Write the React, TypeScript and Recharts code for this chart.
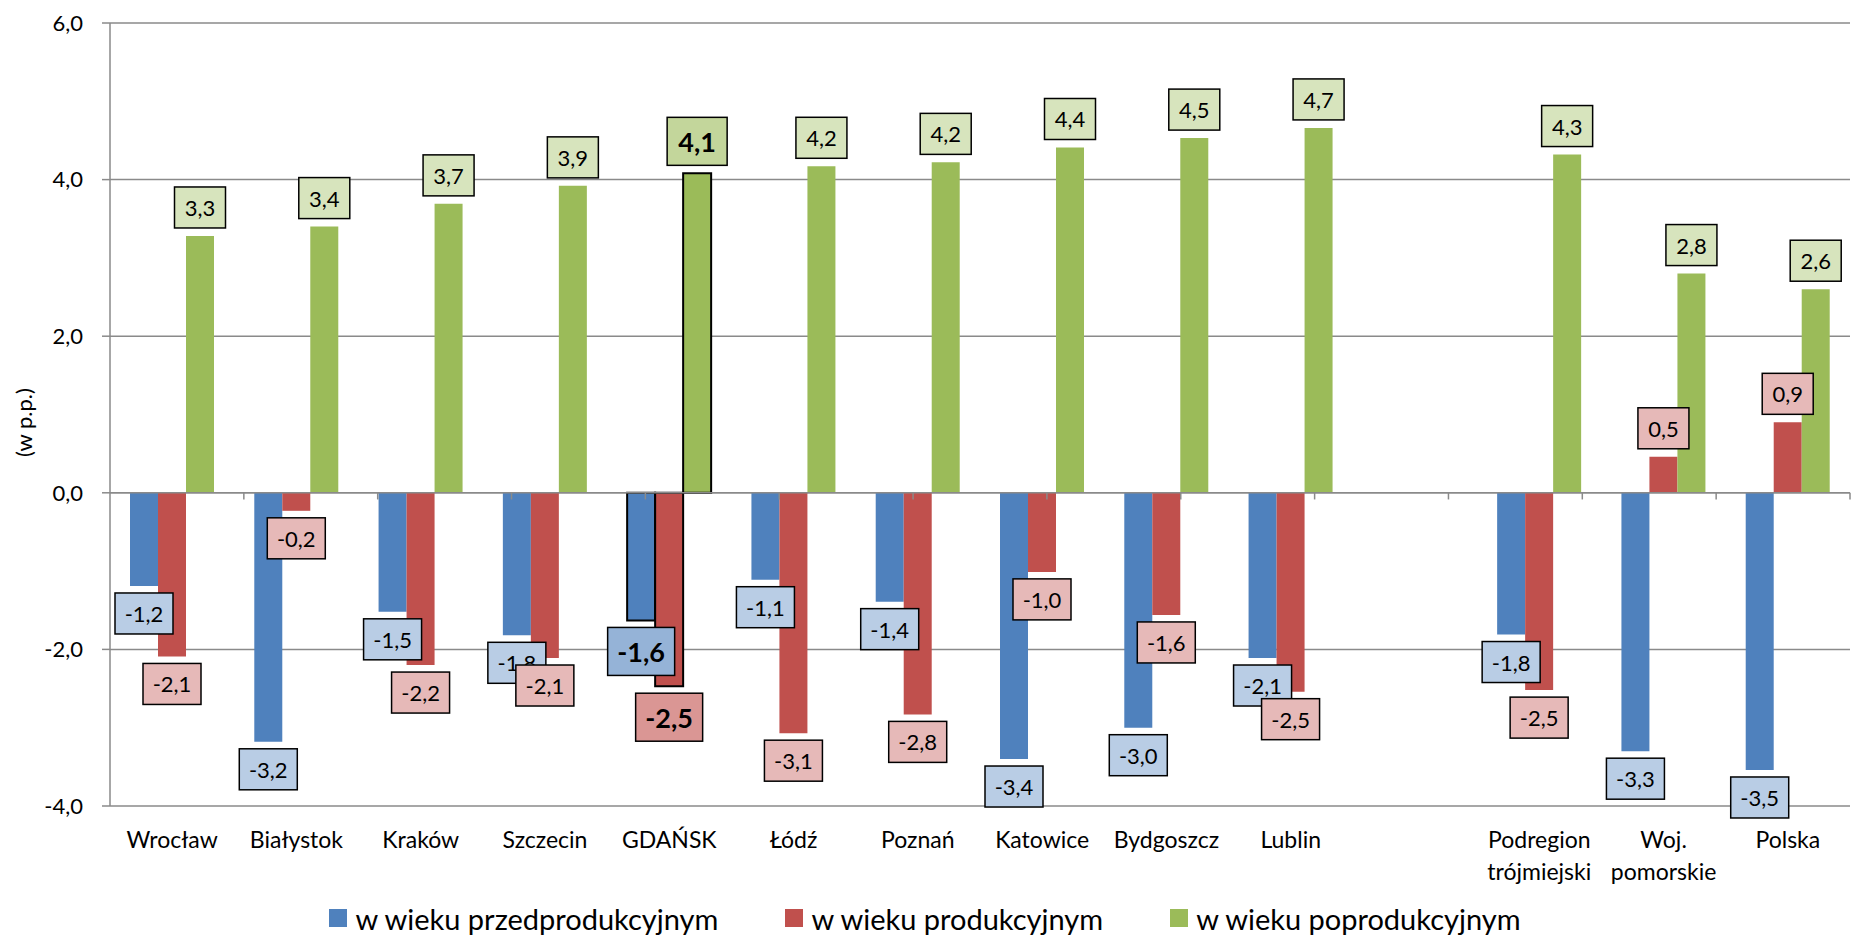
import {
  BarChart, Bar, XAxis, YAxis, CartesianGrid, Cell, LabelList, Legend, ReferenceLine, Label,
} from "recharts";

const categories = [
  "Wrocław", "Białystok", "Kraków", "Szczecin", "GDAŃSK", "Łódź", "Poznań",
  "Katowice", "Bydgoszcz", "Lublin", "", "Podregion\ntrójmiejski", "Woj.\npomorskie", "Polska",
];
const przedprodukcyjny = [-1.19, -3.18, -1.52, -1.82, -1.63, -1.11, -1.39, -3.4, -3.0, -2.11, null, -1.81, -3.3, -3.54];
const produkcyjny = [-2.09, -0.23, -2.2, -2.11, -2.47, -3.07, -2.83, -1.01, -1.56, -2.54, null, -2.52, 0.46, 0.9];
const poprodukcyjny = [3.28, 3.4, 3.69, 3.92, 4.08, 4.17, 4.22, 4.41, 4.53, 4.66, null, 4.32, 2.8, 2.6];
const yTicks = [-4, -2, 0, 2, 4, 6];
const seriesOrder = ["pre", "prod", "post"];
const highlight = "GDAŃSK";

const data = categories.map((name, i) => ({
  name,
  pre: przedprodukcyjny[i],
  prod: produkcyjny[i],
  post: poprodukcyjny[i],
}));
const hlIndex = categories.indexOf(highlight);
const boundaries = categories.slice(1).map((_, i) => i + 1);

const FONT = "Lato, 'Open Sans', sans-serif";
const GRID = "#8a8a8a";
const fmt = (v: number) => v.toFixed(1).replace(".", ",");

// boxed value label, below negative bars and above positive ones
const makeLabel = (fill: string, fillBold: string) => (props: any) => {
  const { x, y, width, height, value, index } = props;
  if (value == null) return null;
  const bold = index === hlIndex;
  const text = fmt(Number(value));
  const h = bold ? 48 : 41;
  const w = (bold ? 39 : 30) + 7 * text.length;
  const cx = Number(x) + Number(width) / 2;
  const top = Math.min(Number(y), Number(y) + Number(height));
  const bottom = Math.max(Number(y), Number(y) + Number(height));
  const by = value < 0 ? bottom + 7 : top - 8 - h;
  return (
    <g>
      <rect x={cx - w / 2} y={by} width={w} height={h} fill={bold ? fillBold : fill} stroke="#000" strokeWidth={1.5} />
      <text x={cx} y={by + h / 2} textAnchor="middle" dominantBaseline="central"
        fontSize={bold ? 27 : 22} fontWeight={bold ? 700 : 400} fontFamily={FONT} fill="#000">
        {text}
      </text>
    </g>
  );
};

const CategoryTick = ({ x, y, payload }: any) => {
  const lines = String(payload.value).split("\n");
  return (
    <text x={x} y={y} textAnchor="middle" fontSize={23} fontFamily={FONT} fill="#000">
      {lines.map((l, i) => (
        <tspan key={i} x={x} dy={i === 0 ? 34 : 32}>{l}</tspan>
      ))}
    </text>
  );
};

const YTitle = ({ viewBox }: any) => {
  const cx = viewBox.x + 23;
  const cy = viewBox.y + viewBox.height / 2 + 8;
  return (
    <text x={cx} y={cy} transform={`rotate(-90 ${cx} ${cy})`} textAnchor="middle"
      dominantBaseline="central" fontSize={22} fontFamily={FONT} fill="#000">
      (w p.p.)
    </text>
  );
};

const LegendContent = ({ payload }: any) => {
  const items = [...(payload || [])].sort(
    (a: any, b: any) => seriesOrder.indexOf(a.dataKey) - seriesOrder.indexOf(b.dataKey),
  );
  return (
    <div style={{ display: "flex", justifyContent: "center", alignItems: "center", gap: 67, height: 40, fontFamily: FONT, fontSize: 29 }}>
      {items.map((p: any) => (
        <div key={p.value} style={{ display: "flex", alignItems: "center" }}>
          <span style={{ width: 18, height: 18, background: p.color, marginRight: 8, display: "inline-block" }} />
          {p.value}
        </div>
      ))}
    </div>
  );
};

export default function App() {
  return (
    <div style={{ fontFamily: FONT }}>
      <style>{`body{margin:0}`}</style>
      <BarChart width={1851} height={938} data={data} barGap={0} barCategoryGap={20}
        margin={{ top: 23, right: 1, bottom: 0, left: 0 }}>
        <CartesianGrid vertical={false} stroke={GRID} strokeWidth={1.5} />
        <XAxis dataKey="name" height={92} axisLine={false} tickLine={false} interval={0} tick={<CategoryTick />} />
        <XAxis xAxisId="b" type="number" domain={[0, categories.length]} hide />
        <YAxis width={110} domain={[-4, 6]} ticks={yTicks} tickFormatter={fmt} interval={0}
          axisLine={{ stroke: GRID, strokeWidth: 1.5 }} tickLine={{ stroke: GRID, strokeWidth: 1.5 }}
          tickSize={8} tickMargin={19} tick={{ fill: "#000", fontSize: 22, fontFamily: FONT }}>
          <Label content={<YTitle />} />
        </YAxis>
        <Legend verticalAlign="bottom" content={<LegendContent />} />
        <ReferenceLine y={0} stroke={GRID} strokeWidth={1.5} />
        {boundaries.map((b) => (
          <ReferenceLine key={b} xAxisId="b" segment={[{ x: b, y: 0 }, { x: b, y: -0.085 }]} stroke={GRID} strokeWidth={1.5} />
        ))}
        <Bar dataKey="pre" name="w wieku przedprodukcyjnym" fill="#4F81BD" isAnimationActive={false}>
          {data.map((_, i) => (
            <Cell key={i} stroke={i === hlIndex ? "#000" : "none"} strokeWidth={i === hlIndex ? 2 : 0} />
          ))}
          <LabelList dataKey="pre" content={makeLabel("#B9CDE5", "#95B3D7")} />
        </Bar>
        <Bar dataKey="prod" name="w wieku produkcyjnym" fill="#C0504D" isAnimationActive={false}>
          {data.map((_, i) => (
            <Cell key={i} stroke={i === hlIndex ? "#000" : "none"} strokeWidth={i === hlIndex ? 2 : 0} />
          ))}
          <LabelList dataKey="prod" content={makeLabel("#E6B9B8", "#DA9694")} />
        </Bar>
        <Bar dataKey="post" name="w wieku poprodukcyjnym" fill="#9BBB59" isAnimationActive={false}>
          {data.map((_, i) => (
            <Cell key={i} stroke={i === hlIndex ? "#000" : "none"} strokeWidth={i === hlIndex ? 2 : 0} />
          ))}
          <LabelList dataKey="post" content={makeLabel("#D7E4BD", "#C3D69B")} />
        </Bar>
      </BarChart>
    </div>
  );
}
